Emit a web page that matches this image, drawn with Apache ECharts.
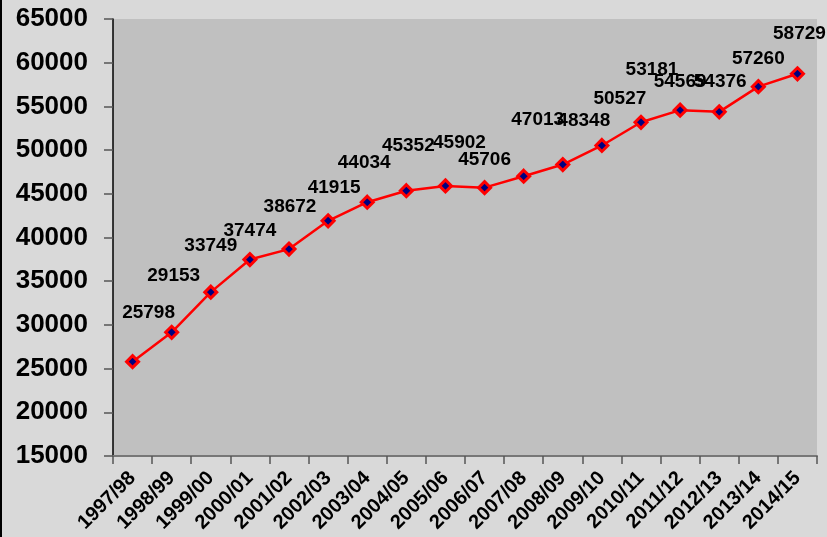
<!DOCTYPE html>
<html>
<head>
<meta charset="utf-8">
<script src="https://cdn.jsdelivr.net/npm/echarts@6/dist/echarts.min.js"></script>
<style>
  html, body { margin: 0; padding: 0; background: #D9D9D9; }
  #chart { width: 827px; height: 537px; }
</style>
</head>
<body>
<div id="chart"></div>
<script>
  // 数据
  var years = ['1997/98', '1998/99', '1999/00', '2000/01', '2001/02', '2002/03',
    '2003/04', '2004/05', '2005/06', '2006/07', '2007/08', '2008/09',
    '2009/10', '2010/11', '2011/12', '2012/13', '2013/14', '2014/15'];
  var values = [25798, 29153, 33749, 37474, 38672, 41915, 44034, 45352, 45902,
    45706, 47013, 48348, 50527, 53181, 54569, 54376, 57260, 58729];
  var yTicks = [15000, 20000, 25000, 30000, 35000, 40000, 45000, 50000, 55000, 60000, 65000];

  // label placement (px from the point), labels were hand-placed in the original
  var labelShift = [[16, -49], [2, -57], [0, -46], [0, -29], [1, -42], [6, -33],
    [-3, -39], [2, -45], [14, -43], [0, -28], [14, -56], [21, -44],
    [18, -47], [11, -53], [0, -28], [1, -30], [0, -28], [2, -40]];

  var font = "'Liberation Sans', Arial, sans-serif";

  var seriesData = values.map(function (v, i) {
    return {
      value: v,
      label: { offset: labelShift[i] }
    };
  });

  var myChart = echarts.init(document.getElementById('chart'));
  var option = {
    backgroundColor: '#D9D9D9',
    animation: false,
    grid: {
      left: 113,
      right: 10,
      top: 19,
      bottom: 81,
      show: true,
      backgroundColor: '#C0C0C0',
      borderWidth: 0
    },
    graphic: [{
      type: 'line',
      shape: { x1: 1, y1: 0, x2: 1, y2: 537 },
      style: { stroke: '#000', lineWidth: 2 }
    }],
    xAxis: {
      type: 'category',
      data: years,
      boundaryGap: true,
      axisLine: { lineStyle: { color: '#777777', width: 2 } },
      axisTick: { show: true, length: 8, lineStyle: { color: '#555555', width: 1.5 } },
      axisLabel: {
        interval: 0,
        rotate: 45,
        margin: 19,
        color: '#000',
        fontFamily: font,
        fontWeight: 'bold',
        fontSize: 20
      },
      splitLine: { show: false }
    },
    yAxis: {
      type: 'value',
      min: yTicks[0],
      max: yTicks[yTicks.length - 1],
      interval: 5000,
      axisLine: { show: true, lineStyle: { color: '#000', width: 1.5 } },
      axisTick: { show: true, length: 9, lineStyle: { color: '#555555', width: 1.5 } },
      axisLabel: {
        margin: 25,
        color: '#000',
        fontFamily: font,
        fontWeight: 'bold',
        fontSize: 26,
        formatter: function (v) { return String(v); }
      },
      splitLine: { show: false }
    },
    series: [{
      type: 'line',
      data: seriesData,
      symbol: 'diamond',
      symbolSize: 12,
      lineStyle: { color: '#FF0000', width: 2.5 },
      itemStyle: { color: '#000080', borderColor: '#FF0000', borderWidth: 3 },
      label: {
        show: true,
        position: 'inside',
        color: '#000',
        fontFamily: font,
        fontWeight: 'bold',
        fontSize: 19
      }
    }]
  };
  myChart.setOption(option);
</script>
</body>
</html>
